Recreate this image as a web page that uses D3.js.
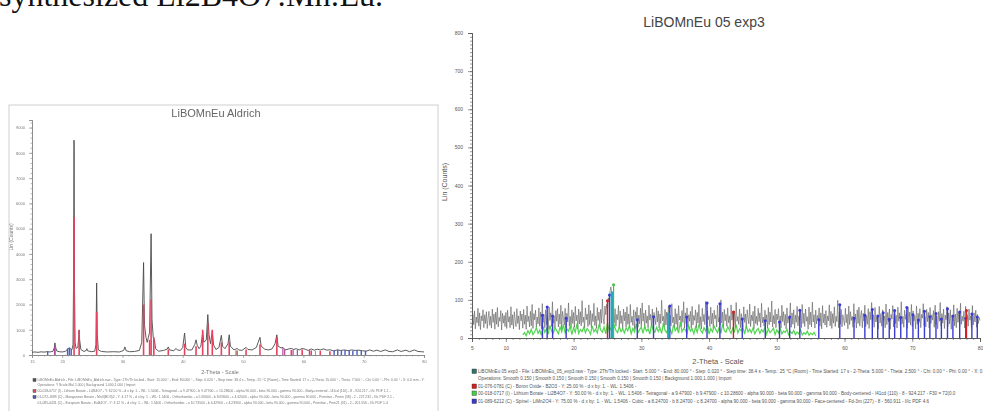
<!DOCTYPE html>
<html><head><meta charset="utf-8">
<script src="https://cdn.jsdelivr.net/npm/d3@7"></script>
<style>
html,body{margin:0;padding:0;background:#fff;}
svg{display:block;}
</style></head><body>
<svg id="c" width="983" height="411"></svg>
<script>
// ---------- Aldrich reference sample (left panel) ----------
const leftXTicks = [15, 20, 30, 40, 50, 60, 70, 80];
const leftYTicks = [0, 1000, 2000, 3000, 4000, 5000, 6000, 7000, 8000, 9000];
// measured scan: [2-theta, counts]
const leftScan = [
  [15.0,110],[15.5,120],[16.0,105],[16.5,125],[17.0,115],[17.5,130],[18.0,120],[18.5,150],[18.7,300],[18.8,480],
  [18.9,320],[19.1,160],[19.5,130],[20.0,120],[20.5,140],[20.8,200],[21.0,260],[21.2,230],[21.4,250],[21.6,200],
  [21.8,400],[21.9,3200],[21.97,8500],[22.05,2600],[22.15,500],[22.3,260],[22.6,300],[22.75,700],[22.82,980],[22.9,600],
  [23.1,220],[23.6,140],[24.0,180],[24.1,250],[24.2,170],[24.8,130],[25.4,150],[25.6,400],[25.72,2850],[25.82,800],
  [26.0,200],[26.5,140],[27.5,120],[28.5,130],[29.5,120],[30.2,180],[30.4,320],[30.6,170],[31.2,130],[32.0,140],
  [32.8,180],[33.2,500],[33.5,3660],[33.65,1200],[33.9,700],[34.1,500],[34.3,700],[34.5,900],[34.75,4800],[34.9,1400],
  [35.1,700],[35.3,600],[35.5,250],[36.0,150],[36.8,180],[37.4,230],[37.6,320],[37.8,200],[38.5,170],[38.9,260],
  [39.1,200],[39.6,180],[40.0,300],[40.3,870],[40.5,300],[40.8,200],[41.5,200],[42.0,420],[42.2,600],[42.4,380],
  [42.7,250],[43.0,350],[43.3,900],[43.5,500],[43.9,600],[44.15,1600],[44.35,800],[44.6,450],[44.9,950],[45.1,400],
  [45.5,220],[46.0,300],[46.4,780],[46.6,350],[47.0,250],[47.5,450],[47.7,800],[47.9,350],[48.5,200],[49.0,260],
  [49.3,200],[49.8,180],[50.5,300],[50.8,220],[51.5,200],[52.2,300],[52.5,500],[52.8,700],[53.0,350],[53.6,230],
  [54.2,200],[54.8,240],[55.3,450],[55.6,800],[55.8,350],[56.3,280],[56.6,300],[57.0,200],[57.6,240],[58.0,260],
  [58.4,220],[58.8,250],[59.3,200],[59.8,260],[60.3,230],[60.8,180],[61.3,240],[61.8,190],[62.3,230],[62.8,200],
  [63.4,240],[63.9,190],[64.4,210],[65.0,160],[65.6,200],[66.2,180],[66.8,200],[67.4,170],[68.0,200],[68.6,180],
  [69.2,190],[69.8,170],[70.4,150],[71.0,200],[71.6,150],[72.2,190],[72.8,140],[73.6,200],[74.2,140],[74.8,130],
  [75.6,200],[76.2,140],[77.0,190],[77.6,130],[78.4,200],[79.0,140],[79.6,130],[80.0,120]
];
// reference phase lines: [2-theta, counts]
const leftRedLines = [
  [18.8,300],[21.97,5450],[22.82,1000],[25.72,1700],[33.5,2000],[34.5,600],[34.75,2200],[35.2,700],[37.6,220],
  [40.3,450],[42.2,350],[43.3,1000],[44.15,1250],[44.9,1000],[46.4,500],[47.7,520],[49.0,180],[50.5,220],
  [52.8,420],[55.6,700],[58.0,200],[59.8,220],[61.3,180],[62.8,160],[64.4,150]
];
const leftBlueLines = [
  [17.6,150],[20.9,260],[21.2,300],[21.5,240],[65.1,190],[65.7,210],[66.3,180],[66.9,200],[67.6,190],
  [68.2,170],[68.9,200],[69.6,160],[70.3,170]
];
const leftPinkLines = [[18.75,350],[56.6,300],[56.9,240],[58.3,220],[59.0,200],[61.0,200]];
const leftGreenLines = [[48.8,180],[62.0,160]];
const leftLegend = [
  {color:"#555", text:"LiBOMnEu Aldrich - File: LiBOMnEu_Aldrich.raw - Type: 2Th/Th locked - Start: 15.000 ° - End: 80.000 ° - Step: 0.020 ° - Step time: 38.4 s - Temp.: 25 °C (Room) - Time Started: 17 s - 2-Theta: 15.000 ° - Theta: 7.500 ° - Chi: 0.00 ° - Phi: 0.00 ° - X: 0.0 mm - Y:"},
  {color:null, text:"Operations: Y Scale Mul 1.000 | Background 1.000,1.000 | Import"},
  {color:"#e0506a", text:"00-018-0717 (I) - Lithium Borate - Li2B4O7 - Y: 62.50 % - d x by: 1. - WL: 1.5406 - Tetragonal - a 9.47900 - b 9.47900 - c 10.28600 - alpha 90.000 - beta 90.000 - gamma 90.000 - Body-centered - I41cd (110) - 8 - 924.217 - I/Ic PDF 1.2 -"},
  {color:"#4a5cc0", text:"01-072-1689 (C) - Manganese Borate - Mn3(BO3)2 - Y: 4.17 % - d x by: 1. - WL: 1.5406 - Orthorhombic - a 5.65600 - b 8.69600 - c 4.62000 - alpha 90.000 - beta 90.000 - gamma 90.000 - Primitive - Pnmn (58) - 2 - 227.232 - I/Ic PDF 2.1 -"},
  {color:null, text:"01-085-0431 (C) - Europium Borate - EuB4O7 - Y: 3.12 % - d x by: 1. - WL: 1.5406 - Orthorhombic - a 10.73500 - b 4.42900 - c 4.23900 - alpha 90.000 - beta 90.000 - gamma 90.000 - Primitive - Pmn21 (31) - 2 - 201.556 - I/Ic PDF 1.4"}
];

// ---------- Sample 05 exp3 (right panel) ----------
const rightXTicks = [5, 10, 20, 30, 40, 50, 60, 70, 80];
const rightYTicks = [0, 100, 200, 300, 400, 500, 600, 700, 800];
// measured scan, start 5.000 deg, step 0.125 deg
const rightStart = 5, rightStep = 0.125;
const rightScan = [
  28,62,35,71,24,55,40,78,31,66,22,58,45,74,27,61,38,69,25,52,
  70,33,57,26,76,41,63,23,68,36,80,29,54,44,72,21,65,39,59,30,
  67,25,73,42,56,27,82,34,61,24,69,47,30,77,38,58,22,71,45,63,
  26,75,36,60,23,84,43,57,29,70,32,88,25,64,48,73,28,55,37,79,
  31,68,24,90,41,62,27,74,35,59,22,81,46,66,30,95,39,58,26,72,
  44,77,29,63,36,86,23,70,51,34,78,27,65,42,92,31,57,25,74,38,
  67,28,83,45,60,24,76,37,69,32,98,41,55,26,79,48,63,30,87,35,
  72,27,64,43,91,33,58,25,80,46,68,29,75,39,102,52,36,84,61,88,
  74,105,96,122,134,118,93,66,40,77,31,62,48,85,27,71,38,59,24,76,
  45,68,29,82,36,63,26,88,41,57,33,74,23,69,50,81,28,60,37,78,
  30,92,44,65,25,73,39,58,27,86,47,62,31,76,22,67,53,35,80,42,
  71,26,63,38,99,45,57,28,75,34,68,24,83,49,60,32,90,40,55,27,
  77,36,64,23,85,47,58,30,72,41,95,26,66,38,79,29,61,44,70,25,
  83,34,59,46,74,27,67,39,88,31,56,24,78,43,62,35,96,28,71,48,
  57,30,81,37,65,25,73,50,60,29,86,42,54,33,100,39,68,26,75,45,
  62,31,79,40,58,23,87,47,66,34,71,28,93,44,56,36,76,27,64,49,
  29,82,41,63,26,74,52,37,89,30,60,45,70,24,84,38,57,33,78,43,
  66,28,91,40,55,31,73,46,61,25,80,35,68,42,97,29,59,37,75,27,
  63,48,77,30,58,26,86,43,69,33,62,24,79,39,54,45,92,28,66,36,
  74,25,60,41,83,32,57,47,71,27,88,38,65,30,76,44,56,23,81,35,
  68,29,94,42,61,26,73,37,59,48,79,31,66,24,85,40,63,34,72,28,
  58,45,87,32,70,25,64,39,82,30,57,43,99,27,68,36,75,29,61,47,
  33,78,40,62,24,84,35,69,46,57,28,90,41,63,26,74,38,81,31,59,
  72,27,65,44,86,30,58,36,77,25,69,48,93,33,61,28,80,42,55,37,
  24,83,39,64,31,74,46,58,27,89,35,67,42,76,23,62,50,85,29,70,
  38,60,26,81,44,66,32,95,37,57,28,73,49,63,25,79,40,68,34,88,
  30,71,45,59,24,84,36,65,41,77,27,62,52,90,33,56,29,75,43,67,
  26,80,38,61,47,72,28,86,35,58,24,69,44,93,31,64,39,76,25,60,
  48,82,30,66,37,74,23,59,45,87,32,63,27,78,41,68,29,91,36,57,
  44,70,26,83,39,61,31,76,47,58,25,85,34,66,42,73,28,62,38,54,
  46
];
// Li2B4O7 phase trace, start 12.50 deg, step 0.25 deg
const greenStart = 12.5, greenStep = 0.25;
const greenTrace = [
  8,14,6,19,11,23,9,16,27,12,21,7,30,15,24,10,33,18,13,26,
  20,11,29,16,35,13,24,18,31,9,27,15,38,12,22,17,28,14,25,19,
  10,32,16,23,13,36,21,15,29,11,40,18,26,12,34,20,14,30,17,24,
  13,27,19,33,11,25,16,37,14,22,29,12,31,18,24,10,35,21,15,28,
  17,26,12,39,20,14,30,23,11,34,19,27,13,42,16,25,21,12,32,18,
  24,11,29,15,36,20,13,27,18,33,10,25,16,31,22,14,28,12,37,19,
  15,30,21,12,26,17,35,13,24,19,28,10,32,16,23,14,27,11,20,25,
  12,22,16,29,10,24,14,19,26,9,21,13,25,11,18,15,23,8,17,12,
  20,9,16,11,22,8,14,10,18,7,13,9,15,6
];
const rightBlueLines = [
  [15.4,60],[16.1,81],[16.9,58],[18.9,52],[25.3,113],[29.4,48],[31.8,56],[34.2,84],[36.7,55],[39.7,92],
  [41.6,90],[44.9,50],[48.3,45],[50.4,42],[51.9,55],[53.4,73],[56.2,48],[59.3,87],[61.4,52],[63.0,60],
  [64.1,75],[64.9,58],[65.7,66],[66.6,49],[67.4,72],[68.3,54],[69.2,80],[70.1,61],[70.9,47],[71.8,70],
  [72.6,56],[73.5,64],[74.3,50],[75.2,77],[76.0,58],[77.0,68],[77.9,52],[78.8,63],[79.6,55]
];
const rightRedLines = [[25.0,98],[43.6,68],[78.0,72]];
const rightCyanLines = [[25.65,122],[34.0,66]];
const rightGreenLines = [[25.9,140]];
const rightLegend = [
  {color:"#2f7468", text:"LiBOMnEu 05 exp3 - File: LiBOMnEu_05_exp3.raw - Type: 2Th/Th locked - Start: 5.000 ° - End: 80.000 ° - Step: 0.020 ° - Step time: 38.4 s - Temp.: 25 °C (Room) - Time Started: 17 s - 2-Theta: 5.000 ° - Theta: 2.500 ° - Chi: 0.00 ° - Phi: 0.00 ° - X: 0.0 mm - Y: 0.0 mm"},
  {color:null, text:"Operations: Smooth 0.150 | Smooth 0.150 | Smooth 0.150 | Smooth 0.150 | Smooth 0.150 | Background 1.000,1.000 | Import"},
  {color:"#d42020", text:"01-076-0781 (C) - Boron Oxide - B2O3 - Y: 25.00 % - d x by: 1. - WL: 1.5406 -"},
  {color:"#44d044", text:"00-018-0717 (I) - Lithium Borate - Li2B4O7 - Y: 50.00 % - d x by: 1. - WL: 1.5406 - Tetragonal - a 9.47900 - b 9.47900 - c 10.28600 - alpha 90.000 - beta 90.000 - gamma 90.000 - Body-centered - I41cd (110) - 8 - 924.217 - F30 = 72(0.0"},
  {color:"#3a3ad0", text:"01-089-6212 (C) - Spinel - LiMn2O4 - Y: 75.00 % - d x by: 1. - WL: 1.5406 - Cubic - a 8.24700 - b 8.24700 - c 8.24700 - alpha 90.000 - beta 90.000 - gamma 90.000 - Face-centered - Fd-3m (227) - 8 - 560.911 - I/Ic PDF 4.6"}
];

// ---------- drawing ----------
const svg = d3.select("#c");
const SANS = "'Liberation Sans', Arial, sans-serif";

// caption line from the page above the figures
svg.append("text").attr("x", -1).attr("y", 6)
  .style("font-family", "'Liberation Serif','Times New Roman',serif")
  .style("font-size", "32px").attr("fill", "#111")
  .text("synthesized Li2B4O7:Mn:Eu.");

const defs = svg.append("defs");
defs.append("filter").attr("id", "soft").attr("x", "-5%").attr("y", "-5%").attr("width", "110%").attr("height", "110%")
  .append("feGaussianBlur").attr("stdDeviation", 0.45);

function styleAxis(g, lineColor, textColor, fontSize) {
  g.select(".domain").attr("stroke", lineColor).attr("stroke-width", 0.8);
  g.selectAll(".tick line").attr("stroke", lineColor).attr("stroke-width", 0.6);
  g.selectAll(".tick text").attr("fill", textColor).style("font-family", SANS).style("font-size", fontSize + "px");
}

function drawLines(g, data, x, y, color, width, cap) {
  g.selectAll(null).data(data).enter().append("line")
    .attr("x1", d => x(d[0])).attr("x2", d => x(d[0]))
    .attr("y1", y(0)).attr("y2", d => y(d[1]))
    .attr("stroke", color).attr("stroke-width", width);
  if (cap) {
    g.selectAll(null).data(data).enter().append("circle")
      .attr("cx", d => x(d[0])).attr("cy", d => y(d[1])).attr("r", cap)
      .attr("fill", color);
  }
}

function drawLegend(g, items, x0, ys, fontSize, box, textColor) {
  items.forEach((it, i) => {
    if (it.color) {
      g.append("rect").attr("x", x0).attr("y", ys[i] - box + 0.5).attr("width", box).attr("height", box)
        .attr("fill", it.color).attr("stroke", "#333").attr("stroke-width", 0.4);
    }
    g.append("text").attr("x", x0 + box + 1.5).attr("y", ys[i])
      .style("font-family", SANS).style("font-size", fontSize + "px").attr("fill", textColor)
      .text(it.text);
  });
}

// ---- left panel ----
const L = svg.append("g").attr("filter", "url(#soft)");
L.append("rect").attr("x", 9).attr("y", 105).attr("width", 429).attr("height", 320)
  .attr("fill", "#fff").attr("stroke", "#cfcfcf").attr("stroke-width", 1);

const xL = d3.scaleLinear().domain([15, 80]).range([32, 424]);
const yL = d3.scaleLinear().domain([0, 9300]).range([355, 120]);

L.append("text").attr("x", 216).attr("y", 117).attr("text-anchor", "middle")
  .style("font-family", SANS).style("font-size", "11px").attr("fill", "#666").text("LiBOMnEu Aldrich");
L.append("text").attr("transform", "translate(13,237) rotate(-90)").attr("text-anchor", "middle")
  .style("font-family", SANS).style("font-size", "5px").attr("fill", "#777").text("Lin (Counts)");

const lyMinor = L.append("g").attr("transform", "translate(32,0)")
  .call(d3.axisLeft(yL).tickValues(d3.range(0, 9301, 200)).tickSize(1.5).tickFormat(""));
styleAxis(lyMinor, "#888", "#777", 4);
const lyMajor = L.append("g").attr("transform", "translate(32,0)")
  .call(d3.axisLeft(yL).tickValues(leftYTicks).tickSize(3).tickPadding(4).tickFormat(d3.format("d")));
styleAxis(lyMajor, "#888", "#777", 4);
const lxMinor = L.append("g").attr("transform", "translate(0,355)")
  .call(d3.axisBottom(xL).tickValues(d3.range(15, 80.01, 1)).tickSize(1.5).tickFormat(""));
styleAxis(lxMinor, "#888", "#777", 4);
const lxMajor = L.append("g").attr("transform", "translate(0,355)")
  .call(d3.axisBottom(xL).tickValues(leftXTicks).tickSize(3).tickPadding(2).tickFormat(d3.format("d")));
styleAxis(lxMajor, "#888", "#777", 4);

L.append("path").datum(leftScan)
  .attr("d", d3.line().x(d => xL(d[0])).y(d => yL(d[1])))
  .attr("fill", "none").attr("stroke", "#4a4a4a").attr("stroke-width", 0.9);
drawLines(L, leftRedLines, xL, yL, "#e8405e", 1.6, 0);
drawLines(L, leftBlueLines, xL, yL, "#4a5cc0", 1.4, 0);
drawLines(L, leftPinkLines, xL, yL, "#b04a9a", 1.2, 0);
drawLines(L, leftGreenLines, xL, yL, "#4cc44c", 1.0, 0);

L.append("text").attr("x", 220).attr("y", 374).attr("text-anchor", "middle")
  .style("font-family", SANS).style("font-size", "5.5px").attr("fill", "#777").text("2-Theta - Scale");
drawLegend(L, leftLegend, 33, [381, 386, 392, 398, 404], 3.4, 3, "#777");

// ---- right panel ----
const R = svg.append("g");
const xR = d3.scaleLinear().domain([5, 80]).range([472, 980]);
const yR = d3.scaleLinear().domain([0, 800]).range([338, 33]);

R.append("text").attr("x", 704).attr("y", 27).attr("text-anchor", "middle")
  .style("font-family", SANS).style("font-size", "14px").attr("fill", "#444").text("LiBOMnEu 05 exp3");
R.append("text").attr("transform", "translate(447,182) rotate(-90)").attr("text-anchor", "middle")
  .style("font-family", SANS).style("font-size", "7px").attr("fill", "#555").text("Lin (Counts)");

const ryMinor = R.append("g").attr("transform", "translate(472,0)")
  .call(d3.axisLeft(yR).tickValues(d3.range(0, 801, 10)).tickSize(2).tickFormat(""));
styleAxis(ryMinor, "#555", "#555", 5);
const ryMajor = R.append("g").attr("transform", "translate(472,0)")
  .call(d3.axisLeft(yR).tickValues(rightYTicks).tickSize(4).tickPadding(5).tickFormat(d3.format("d")));
styleAxis(ryMajor, "#555", "#555", 5);
const rxMinor = R.append("g").attr("transform", "translate(0,338)")
  .call(d3.axisBottom(xR).tickValues(d3.range(5, 80.01, 1)).tickSize(2).tickFormat(""));
styleAxis(rxMinor, "#555", "#555", 5);
const rxMajor = R.append("g").attr("transform", "translate(0,338)")
  .call(d3.axisBottom(xR).tickValues(rightXTicks).tickSize(4).tickPadding(4).tickFormat(d3.format("d")));
styleAxis(rxMajor, "#555", "#555", 5);

R.append("path").datum(rightScan)
  .attr("d", d3.line().x((d, i) => xR(rightStart + i * rightStep)).y(d => yR(d)))
  .attr("fill", "none").attr("stroke", "#5a5a5a").attr("stroke-width", 0.65).attr("opacity", 0.9);
R.append("path").datum(greenTrace)
  .attr("d", d3.line().x((d, i) => xR(greenStart + i * greenStep)).y(d => yR(d)))
  .attr("fill", "none").attr("stroke", "#3fd23f").attr("stroke-width", 1.2).attr("opacity", 0.9);
drawLines(R, rightBlueLines, xR, yR, "#3a3ad0", 1.4, 1.5);
drawLines(R, rightCyanLines, xR, yR, "#2aa6b8", 2.6, 0);
drawLines(R, rightRedLines, xR, yR, "#d42020", 1.4, 1.5);
drawLines(R, rightGreenLines, xR, yR, "#44c044", 1.2, 1.5);

R.append("text").attr("x", 718).attr("y", 364).attr("text-anchor", "middle")
  .style("font-family", SANS).style("font-size", "7.5px").attr("fill", "#555").text("2-Theta - Scale");
drawLegend(R, rightLegend, 472, [373, 380, 388, 395, 403], 4.6, 4.5, "#555");
</script>
</body></html>
